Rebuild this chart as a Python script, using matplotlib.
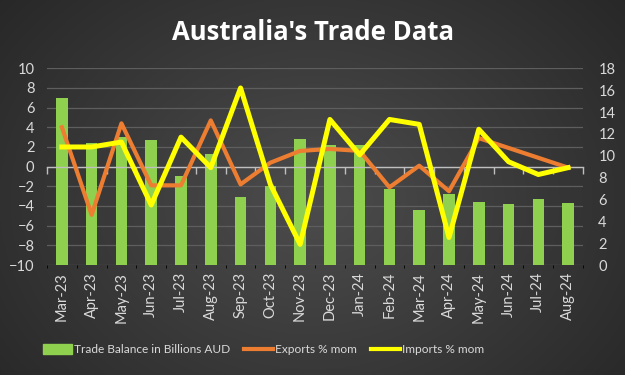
import numpy as np
import matplotlib
matplotlib.use("Agg")
import matplotlib.pyplot as plt
from matplotlib.patches import Patch
from matplotlib.lines import Line2D

months = ["Mar-23", "Apr-23", "May-23", "Jun-23", "Jul-23", "Aug-23", "Sep-23",
          "Oct-23", "Nov-23", "Dec-23", "Jan-24", "Feb-24", "Mar-24", "Apr-24",
          "May-24", "Jun-24", "Jul-24", "Aug-24"]
trade_balance = [15.3, 11.2, 11.7, 11.4, 8.1, 10.2, 6.2, 7.2, 11.5, 11.0, 11.0,
                 7.0, 5.0, 6.5, 5.8, 5.6, 6.0, 5.7]
exports_mom = [4.0, -4.9, 4.4, -1.9, -1.9, 4.7, -1.8, 0.4, 1.6, 1.8, 1.6,
               -2.1, 0.1, -2.5, 2.9, 1.9, 0.9, -0.1]
imports_mom = [2.0, 2.0, 2.5, -3.9, 3.0, -0.1, 8.0, -1.8, -7.9, 4.8, 1.2,
               4.8, 4.3, -7.2, 3.8, 0.5, -0.8, -0.1]

plt.rcParams['font.family'] = ['Lato', 'DejaVu Sans']
txt = '#d9d9d9'

fig = plt.figure(figsize=(6.25, 3.75), dpi=100)

# dark radial gradient background
bg = fig.add_axes([0, 0, 1, 1])
yy, xx = np.mgrid[0:375, 0:625]
r = np.sqrt(((xx - 312) / 420.0) ** 2 + ((yy - 200) / 330.0) ** 2)
r = np.clip(r, 0, 1)
shade = 0.30 - 0.15 * r
bg.imshow(np.dstack([shade, shade, shade]), aspect='auto', extent=[0, 1, 0, 1])
bg.axis('off')

pos = [0.0752, 0.2933, 0.8576, 0.5246]
x = np.arange(len(months))
bounds = np.arange(-0.5, len(months), 1)

# base axes: grid, left ticks
ax = fig.add_axes(pos)
ax.patch.set_alpha(0)
ax.set_ylim(-10, 10)
ax.set_yticks(np.arange(-10, 11, 2))
ax.grid(axis='y', color='#5e5e5e', linewidth=0.9)
ax.set_axisbelow(True)
for s in ax.spines.values():
    s.set_visible(False)
ax.tick_params(axis='y', length=0, colors=txt, labelsize=10.5, pad=9)
ax.tick_params(axis='x', which='both', length=0, labelbottom=False)

# bars on the right scale
axb = ax.twinx()
axb.bar(x, trade_balance, width=0.39, color='#8fd14f', zorder=2)
axb.set_ylim(0, 18)
axb.set_yticks(np.arange(0, 19, 2))
axb.tick_params(axis='y', length=0, colors=txt, labelsize=10.5, pad=11)
for s in axb.spines.values():
    s.set_visible(False)
axb.xaxis.set_visible(True)
axb.set_xlim(-0.5, len(months) - 0.5)
axb.set_xticks(x)
axb.set_xticklabels(months, rotation=90, color=txt, fontsize=10.5)
axb.tick_params(axis='x', which='major', length=0, pad=5)

# category axis line at zero with boundary tick marks (over the bars)
axz = ax.twinx()
axz.set_ylim(-10, 10)
axz.set_yticks([])
axz.xaxis.set_visible(True)
for s in ['top', 'right', 'left']:
    axz.spines[s].set_visible(False)
axz.spines['bottom'].set_position(('data', 0))
axz.spines['bottom'].set_color('#bfbfbf')
axz.spines['bottom'].set_linewidth(1.0)
axz.set_xticks(x)
axz.set_xticks(bounds, minor=True)
axz.tick_params(axis='x', which='major', length=0, labelbottom=False)
axz.tick_params(axis='x', which='minor', length=5, width=1.0, color='#bfbfbf',
                direction='out', bottom=True)

# lines on the left scale
axl = ax.twinx()
axl.plot(x, exports_mom, color='#ed7d31', linewidth=3.0, zorder=3)
axl.plot(x, imports_mom, color='#ffff00', linewidth=3.6, zorder=4)
axl.set_ylim(-10, 10)
axl.set_yticks([])
for s in axl.spines.values():
    s.set_visible(False)

fig.text(0.5, 0.913, "Australia's Trade Data", ha='center', va='center',
         color='white', fontsize=18.5, fontweight='bold', family=['Open Sans', 'DejaVu Sans'])

handles = [Patch(color='#8fd14f'),
           Line2D([], [], color='#ed7d31', linewidth=3),
           Line2D([], [], color='#ffff00', linewidth=3)]
labels = ['Trade Balance in Billions AUD', 'Exports % mom', 'Imports % mom']
leg = fig.legend(handles, labels, loc='center', bbox_to_anchor=(0.4216, 0.067),
                 ncol=3, frameon=False, fontsize=8.6, handlelength=2.4,
                 handleheight=0.9, handletextpad=0.15, columnspacing=1.2)
for t in leg.get_texts():
    t.set_color(txt)

fig.savefig('out.png', dpi=100)
